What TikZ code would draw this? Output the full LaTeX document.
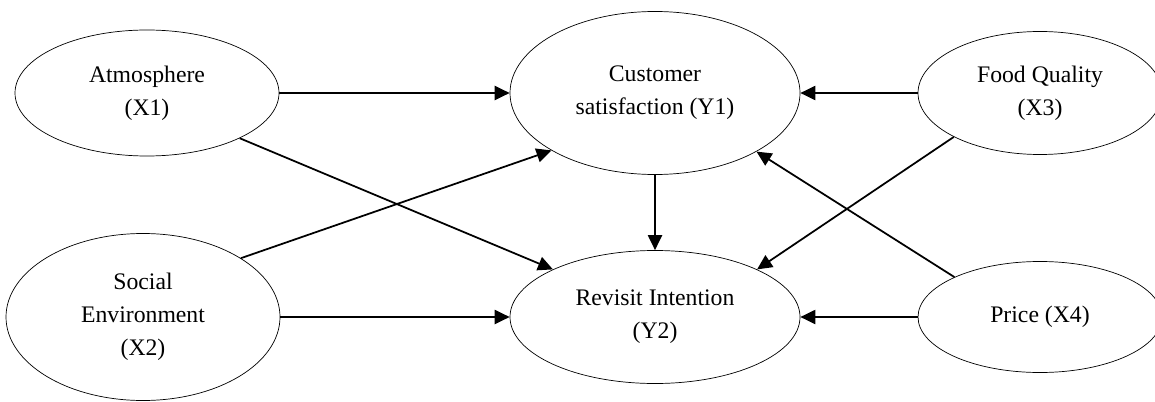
\documentclass[tikz,border=0pt]{standalone}
\usepackage{fontspec}
\setmainfont{Liberation Serif}
\usetikzlibrary{shapes.geometric,arrows.meta}

\begin{document}
\begin{tikzpicture}
[construct/.style={shape=ellipse,draw=black,thin,inner sep=0pt,align=center,
  font=\fontsize{13.5}{18.8}\selectfont},
myarrow/.style={line width=1pt,-{Triangle[length=8.5pt,width=8pt]}}]

\useasboundingbox (0,0) rectangle (23.1,8.02);

\node (atm) [construct,minimum width=5.28cm,minimum height=2.52cm] at (2.94,6.16) {Atmosphere\\(X1)};
\node (soc) [construct,minimum width=5.48cm,minimum height=3.34cm] at (2.86,1.68) {Social\\Environment\\(X2)};
\node (cs) [construct,minimum width=5.8cm,minimum height=3.26cm] at (13.1,6.16) {Customer\\satisfaction (Y1)};
\node (ri) [construct,minimum width=5.8cm,minimum height=2.66cm] at (13.1,1.68) {Revisit Intention\\(Y2)};
\node (fq) [construct,minimum width=4.88cm,minimum height=2.46cm] at (20.8,6.16) {Food Quality\\(X3)};
\node (pr) [construct,minimum width=4.88cm,minimum height=2.22cm] at (20.8,1.68) {Price (X4)};

\draw[myarrow] (atm.east) -- (cs.west);
\draw[myarrow] (atm.-26) -- (ri.155);
\draw[myarrow] (soc.31) -- (cs.209);
\draw[myarrow] (soc.east) -- (ri.west);
\draw[myarrow] (cs.south) -- (ri.north);
\draw[myarrow] (fq.west) -- (cs.east);
\draw[myarrow] (fq.207) -- (ri.25);
\draw[myarrow] (pr.155) -- (cs.330);
\draw[myarrow] (pr.west) -- (ri.east);

\end{tikzpicture}
\end{document}
